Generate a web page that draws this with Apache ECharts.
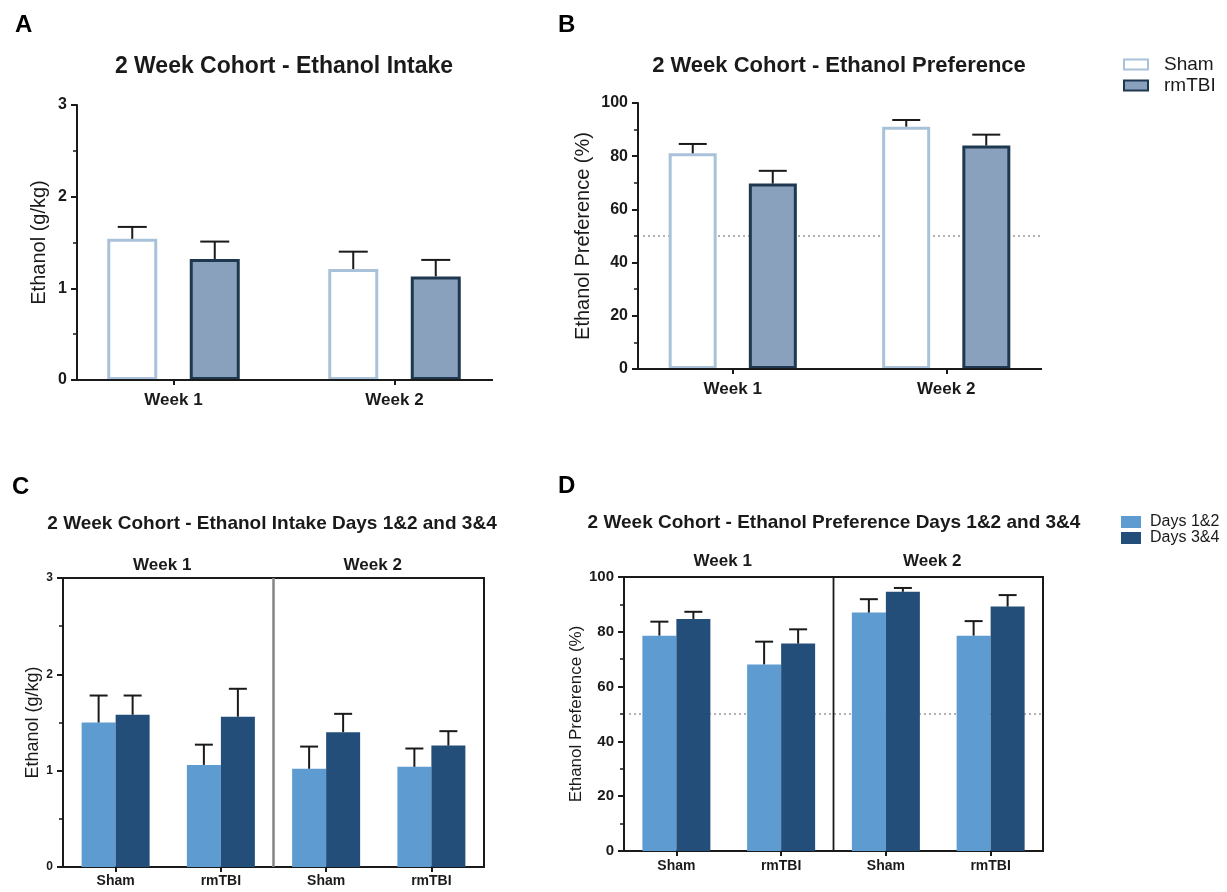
<!DOCTYPE html>
<html>
<head>
<meta charset="utf-8">
<script src="https://cdn.jsdelivr.net/npm/echarts/dist/echarts.min.js"></script>
<style>
  html, body { margin: 0; padding: 0; background: #fff; }
  #chart { width: 1227px; height: 892px; }
</style>
</head>
<body>
<div id="chart"></div>
<script>
// data
const weeks = ['Week 1', 'Week 2'];
const groups = ['Sham', 'rmTBI', 'Sham', 'rmTBI'];

// A: intake (g/kg), mean and SEM per week
const shamIntake = [1.54, 1.21];
const shamIntakeSem = [0.13, 0.19];
const tbiIntake = [1.32, 1.13];
const tbiIntakeSem = [0.19, 0.18];

// B: preference (%)
const shamPref = [81.1, 91.1];
const shamPrefSem = [3.5, 2.5];
const tbiPref = [69.7, 84.0];
const tbiPrefSem = [4.8, 4.1];

// C: intake by day pairs (Sham W1, rmTBI W1, Sham W2, rmTBI W2)
const d12Intake = [1.50, 1.06, 1.02, 1.04];
const d12IntakeSem = [0.28, 0.21, 0.23, 0.19];
const d34Intake = [1.58, 1.56, 1.40, 1.26];
const d34IntakeSem = [0.20, 0.29, 0.19, 0.15];

// D: preference by day pairs
const d12Pref = [78.6, 68.1, 87.0, 78.6];
const d12PrefSem = [5.1, 8.3, 4.9, 5.3];
const d34Pref = [84.7, 75.7, 94.6, 89.2];
const d34PrefSem = [2.6, 5.2, 1.4, 4.2];

const chancePref = 50;

const FONT = 'Liberation Sans, Arial, sans-serif';
const INK = '#1a1a1a';
const C_SHAM = '#a9c2d9', C_TBI_FILL = '#8aa1bd', C_TBI_EDGE = '#1e3850';
const C_D12 = '#5e9bd1', C_D34 = '#234e79';

const chart = echarts.init(document.getElementById('chart'));

// SEM bar (up only) drawn over a grouped bar, dx = offset of that bar from category centre
function errSeries(xi, yi, means, sems, dx, cap) {
  return {
    type: 'custom', xAxisIndex: xi, yAxisIndex: yi, z: 5, silent: true,
    data: means.map((m, i) => [i, m, sems[i]]),
    renderItem: (params, api) => {
      const base = api.coord([api.value(0), api.value(1)]);
      const top = api.coord([api.value(0), api.value(1) + api.value(2)]);
      const x = base[0] + dx;
      const st = { stroke: INK, lineWidth: 2 };
      return {
        type: 'group', children: [
          { type: 'line', shape: { x1: x, y1: base[1], x2: x, y2: top[1] }, style: st },
          { type: 'line', shape: { x1: x - cap / 2, y1: top[1], x2: x + cap / 2, y2: top[1] }, style: st },
        ],
      };
    },
  };
}

// horizontal line across the plot at value v (inset from the grid edges in px)
function hLine(xi, yi, v, inL, inR, style, z) {
  return {
    type: 'custom', xAxisIndex: xi, yAxisIndex: yi, z: z, silent: true,
    data: [[0, v]],
    renderItem: (params, api) => {
      const cs = params.coordSys;
      const y = api.coord([0, api.value(1)])[1];
      return { type: 'line', shape: { x1: cs.x + inL, y1: y, x2: cs.x + cs.width - inR, y2: y }, style: style };
    },
  };
}
const dotted = { stroke: '#666', lineWidth: 1.2, lineDash: [2, 3] };
const solid = { stroke: INK, lineWidth: 2 };

// vertical week divider in the middle of the framed panels
function divider(xi, yi, color, w) {
  return {
    type: 'custom', xAxisIndex: xi, yAxisIndex: yi, z: 4, silent: true,
    data: [[0, 0]],
    renderItem: (params) => {
      const cs = params.coordSys;
      const x = cs.x + cs.width / 2;
      return { type: 'line', shape: { x1: x, y1: cs.y, x2: x, y2: cs.y + cs.height }, style: { stroke: color, lineWidth: w } };
    },
  };
}

function yAx(gi, max, interval, name, gap, nameSize, labelSize, offset) {
  return {
    type: 'value', gridIndex: gi, min: 0, max: max, interval: interval, offset: offset || 0,
    name: name, nameLocation: 'middle', nameGap: gap,
    nameTextStyle: { fontSize: nameSize, color: INK, fontFamily: FONT },
    axisLine: { show: true, lineStyle: { color: INK, width: 2 } },
    axisTick: { show: true, length: 6, lineStyle: { color: INK, width: 2 } },
    minorTick: { show: true, splitNumber: 2, length: 4, lineStyle: { color: INK, width: 1.5 } },
    splitLine: { show: false },
    axisLabel: { fontSize: labelSize, fontWeight: 'bold', color: INK, fontFamily: FONT, margin: 10 },
  };
}

function xAx(gi, data, labelSize, margin, showLine) {
  return {
    type: 'category', gridIndex: gi, data: data,
    axisLine: { show: showLine, lineStyle: { color: INK, width: 2 } },
    axisTick: { show: true, alignWithLabel: true, length: 5, lineStyle: { color: INK, width: 2 } },
    axisLabel: { fontSize: labelSize, fontWeight: 'bold', color: INK, fontFamily: FONT, margin: margin },
  };
}

function weekAx(gi, margin) {
  return {
    type: 'category', gridIndex: gi, data: weeks, position: 'top',
    axisLine: { show: false }, axisTick: { show: false },
    axisLabel: { fontSize: 17, fontWeight: 'bold', color: INK, fontFamily: FONT, margin: margin, padding: [0, 12, 0, 0] },
  };
}

const letter = (t, x, y) => ({ text: t, left: x, top: y, textStyle: { fontSize: 24, fontWeight: 'bold', color: '#000', fontFamily: FONT } });
const heading = (t, cx, y, size) => ({ text: t, left: cx, top: y, textAlign: 'center', textStyle: { fontSize: size, fontWeight: 'bold', color: INK, fontFamily: FONT } });

chart.setOption({
  animation: false,
  backgroundColor: '#fff',
  title: [
    letter('A', 10, 8), letter('B', 553, 8), letter('C', 7, 470), letter('D', 553, 469),
    heading('2 Week Cohort - Ethanol Intake', 279, 50, 23),
    heading('2 Week Cohort - Ethanol Preference', 834, 50, 22),
    heading('2 Week Cohort - Ethanol Intake Days 1&2 and 3&4', 267, 509, 19),
    heading('2 Week Cohort - Ethanol Preference Days 1&2 and 3&4', 829, 508, 19),
  ],
  legend: [
    {
      data: ['Sham', 'rmTBI'], orient: 'vertical', left: 1123, top: 55, padding: 0,
      itemWidth: 24, itemHeight: 10, itemGap: 2, icon: 'rect',
      textStyle: { fontSize: 19, color: INK, fontFamily: FONT, lineHeight: 19, padding: [0, 0, 0, 11] },
      itemStyle: { borderWidth: 2 },
    },
    {
      data: ['Days 1&2', 'Days 3&4'], orient: 'vertical', left: 1121, top: 514, padding: 0,
      itemWidth: 20, itemHeight: 12, itemGap: 0, icon: 'rect',
      textStyle: { fontSize: 16, color: INK, fontFamily: FONT, lineHeight: 16, padding: [0, 0, 0, 4] },
    },
  ],
  grid: [
    // A and B grids are wider than the drawn axes so the week groups sit where GraphPad put them
    { left: 63, top: 105, width: 442, height: 275 },
    { left: 626, top: 103, width: 427, height: 266 },
    { left: 63, top: 578, width: 421, height: 289, show: true, borderColor: INK, borderWidth: 2 },
    { left: 624, top: 577, width: 419, height: 274, show: true, borderColor: INK, borderWidth: 2 },
  ],
  xAxis: [
    xAx(0, weeks, 17, 12, false),
    xAx(1, weeks, 17, 12, false),
    xAx(2, groups, 14, 7, true),
    weekAx(2, 4),
    xAx(3, groups, 14, 8, true),
    weekAx(3, 7),
  ],
  yAxis: [
    yAx(0, 3, 1, 'Ethanol (g/kg)', 28, 20, 16, -14),
    yAx(1, 100, 20, 'Ethanol Preference (%)', 45, 20, 16, -12),
    yAx(2, 3, 1, 'Ethanol (g/kg)', 21, 18, 12),
    yAx(3, 100, 20, 'Ethanol Preference (%)', 37, 17, 15),
  ],
  series: [
    // A
    hLine(0, 0, 0, 14, 12, solid, 6),
    { name: 'Sham', type: 'bar', xAxisIndex: 0, yAxisIndex: 0, data: shamIntake, barWidth: 50, barGap: '65%',
      itemStyle: { color: '#fff', borderColor: C_SHAM, borderWidth: 3 } },
    { name: 'rmTBI', type: 'bar', xAxisIndex: 0, yAxisIndex: 0, data: tbiIntake, barWidth: 50, barGap: '65%',
      itemStyle: { color: C_TBI_FILL, borderColor: C_TBI_EDGE, borderWidth: 3 } },
    errSeries(0, 0, shamIntake, shamIntakeSem, -41.25, 29),
    errSeries(0, 0, tbiIntake, tbiIntakeSem, 41.25, 29),

    // B
    hLine(1, 1, 0, 12, 11, solid, 6),
    hLine(1, 1, chancePref, 17, 11, dotted, 1),
    { name: 'Sham', type: 'bar', xAxisIndex: 1, yAxisIndex: 1, data: shamPref, barWidth: 48, barGap: '67%',
      itemStyle: { color: '#fff', borderColor: C_SHAM, borderWidth: 3 } },
    { name: 'rmTBI', type: 'bar', xAxisIndex: 1, yAxisIndex: 1, data: tbiPref, barWidth: 48, barGap: '67%',
      itemStyle: { color: C_TBI_FILL, borderColor: C_TBI_EDGE, borderWidth: 3 } },
    errSeries(1, 1, shamPref, shamPrefSem, -40, 28),
    errSeries(1, 1, tbiPref, tbiPrefSem, 40, 28),

    // C
    { name: 'Days 1&2', type: 'bar', xAxisIndex: 2, yAxisIndex: 2, data: d12Intake, barWidth: 34, barGap: '0%',
      itemStyle: { color: C_D12 } },
    { name: 'Days 3&4', type: 'bar', xAxisIndex: 2, yAxisIndex: 2, data: d34Intake, barWidth: 34, barGap: '0%',
      itemStyle: { color: C_D34 } },
    errSeries(2, 2, d12Intake, d12IntakeSem, -17, 18),
    errSeries(2, 2, d34Intake, d34IntakeSem, 17, 18),
    divider(2, 2, '#858585', 2.5),

    // D
    hLine(4, 3, chancePref, 5, 0, dotted, 1),
    { name: 'Days 1&2', type: 'bar', xAxisIndex: 4, yAxisIndex: 3, data: d12Pref, barWidth: 34, barGap: '0%',
      itemStyle: { color: C_D12 } },
    { name: 'Days 3&4', type: 'bar', xAxisIndex: 4, yAxisIndex: 3, data: d34Pref, barWidth: 34, barGap: '0%',
      itemStyle: { color: C_D34 } },
    errSeries(4, 3, d12Pref, d12PrefSem, -17, 18),
    errSeries(4, 3, d34Pref, d34PrefSem, 17, 18),
    divider(4, 3, INK, 1.8),
  ],
});
</script>
</body>
</html>
